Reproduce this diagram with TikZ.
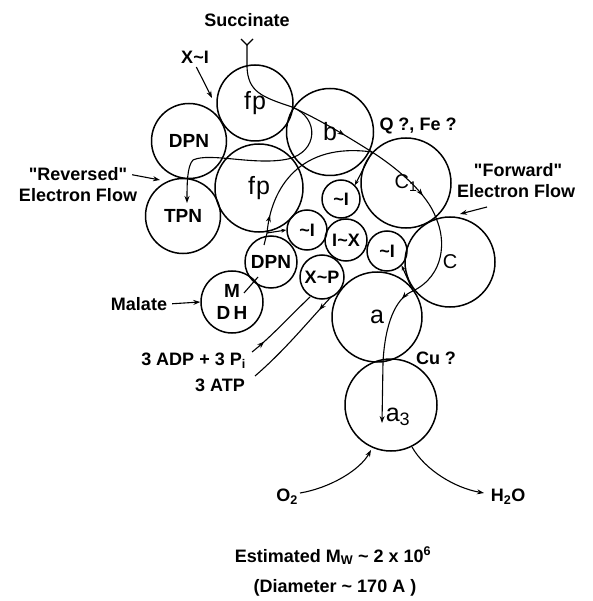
\documentclass[tikz,border=0pt]{standalone}
\usepackage{fontspec}
\setmainfont{Liberation Sans}
\usetikzlibrary{arrows.meta, decorations.markings}

\newcommand{\tld}{{\char"7E}}

\tikzset{
  ball/.style={circle, draw, line width=1.5pt, inner sep=0pt, minimum size=#1},
  lbl/.style={font=\bfseries\fontsize{18}{21}\selectfont, inner sep=1pt},
  inlbl/.style={font=\bfseries\fontsize{19}{22}\selectfont},
  smalllbl/.style={font=\bfseries\fontsize{18}{20}\selectfont},
  bigtxt/.style={font=\fontsize{25}{28}\selectfont},
  flow/.style={line width=1.1pt},
  lblarr/.style={-{Stealth[length=7pt,width=5pt]}, line width=1.1pt},
  smallarr/.style={-{Stealth[length=5pt,width=4pt]}, line width=1.1pt},
  midarrow/.style={postaction={decorate},
    decoration={markings, mark=at position #1 with {\arrow{Stealth[length=7pt,width=5pt]}}}},
}

\begin{document}
\begin{tikzpicture}[x=1pt, y=-1pt, >={Stealth[length=7pt,width=5pt]}]
\useasboundingbox (0,0) rectangle (592,601);

% ---- particles ----
\node[ball=76pt, bigtxt] (fpU) at (255,103) {f\kern1pt p};
\node[ball=75pt, inlbl] (dpnU) at (189,141) {DPN};
\node[ball=87pt, bigtxt] (cytb) at (330,132) {b};
\node[ball=88pt, bigtxt] (fpL) at (259,188) {f\kern1pt p};
\node[ball=75pt, inlbl] (tpn) at (183,216) {TPN};
\node[ball=90pt, font=\fontsize{20}{22}\selectfont] (cytc1) at (406,183) {C\textsubscript{1}};
\node[ball=38pt, smalllbl] (iT) at (341,199) {\tld I};
\node[ball=40pt, smalllbl] (iL) at (307,230) {\tld I};
\node[ball=42pt, smalllbl] (ix) at (346,240) {I\tld X};
\node[ball=40pt, smalllbl] (iR) at (387,251) {\tld I};
\node[ball=44pt, smalllbl] (xp) at (322,277) {X\tld P};
\node[ball=52pt, inlbl] (dpnM) at (271,262) {DPN};
\node[ball=62pt, inlbl, align=center] (mdh) at (232,302) {M\\D\,H};
\node[ball=90pt, font=\fontsize{20}{22}\selectfont] (cytc) at (450,262) {C};
\node[ball=90pt, bigtxt] (cyta) at (377,317) {a};
\node[ball=92pt] (cyta3) at (391,405) {};
\node[bigtxt, inner sep=0pt] (a3lbl) at (398,417) {a\textsubscript{\fontsize{18}{20}\selectfont 3}};

% ---- junctions ----
\coordinate (sucTop) at (247,45);
\coordinate (jFB) at (292,107);
\coordinate (jBC) at (372,152);
\coordinate (jCC) at (436,218);
\coordinate (jAC) at (413,291);
\coordinate (jAA) at (383,362);
\coordinate (a3end) at (382,423);
\coordinate (jDF) at (267,233);
\coordinate (tpnEnd) at (187,203);

% ---- labels ----
\node[lbl] (suc) at (247,20) {Succinate};
\node[lbl] (xi) at (195,57) {X\tld I};
\node[lbl] (rev1) at (78,174) {\textquotedbl Reversed\textquotedbl};
\node[lbl] (rev2) at (78,195) {Electron Flow};
\node[lbl] (fwd1) at (518,170) {\textquotedbl Forward\textquotedbl};
\node[lbl] (fwd2) at (516,191) {Electron Flow};
\node[lbl] (qfe) at (418,126) {Q ?, Fe ?};
\node[lbl] (cu) at (436,358) {Cu ?};
\node[lbl] (mal) at (139,304) {Malate};
\node[lbl, anchor=east] (adp) at (247,361) {3 ADP + 3 P\textsubscript{i}};
\node[lbl, anchor=east] (atp) at (246,385) {3 ATP};
\node[lbl] (oxy) at (287,497) {O\textsubscript{2}};
\node[lbl] (wat) at (508,497) {H\textsubscript{2}O};
\node[lbl] (mw) at (333,556) {Estimated M\textsubscript{W} \tld\ 2 x 10\textsuperscript{6}};
\node[lbl] (dia) at (335,588) {(Diameter \tld\ 170 A )};

\coordinate (xiEnd) at (212,98);
\coordinate (revEnd) at (160,180);
\coordinate (fwdFrom) at (487,207);
\coordinate (fwdTo) at (460,214);

% label arrows
\draw[lblarr, shorten <=3pt] (xi.south) -- (xiEnd);
\draw[lblarr, shorten <=4pt] (rev1.east) -- (revEnd);
\draw[lblarr] (fwdFrom) -- (fwdTo);
\draw[lblarr, shorten <=4pt] (mal.east) -- (mdh.west);

% ---- succinate -> a3 ----
\draw[flow] (241,39) -- (sucTop) -- (253,39);
\draw[flow] (sucTop) -- (247,67) .. controls (248,92) and (262,97) .. (jFB);
\draw[flow, midarrow=0.65] (jFB) .. controls (320,120) and (345,135) .. (jBC);
\draw[flow, midarrow=0.72] (jBC) .. controls (400,170) and (428,195) .. (jCC);
\draw[flow] (jCC) .. controls (446,240) and (445,275) .. (jAC);
\draw[flow, midarrow=0.17] (jAC) .. controls (395,298) and (385,325) .. (jAA);
\draw[flow, ->] (jAA) -- (a3end);

% reversed flow to TPN
\draw[flow, ->] (jFB) .. controls (320,118) and (318,152) .. (288,159)
  .. controls (255,166) and (210,152) .. (193,160)
  .. controls (187,166) and (187,185) .. (tpnEnd);

% malate branch
\draw[flow] (244,293) -- (258,277);
\draw[flow] (264,245) -- (jDF);
\draw[flow, midarrow=0.12] (jDF) .. controls (271,188) and (300,142) .. (jBC);

% ~I formation
\draw[smallarr] (jDF) -- (iL.west);
\draw[smallarr] (jBC) -- (iT.north east);
\draw[smallarr] (jAC) -- (iR.south east);

% phosphorylation
\draw[flow, midarrow=0.2] (252,352) .. controls (270,338) and (292,314) .. (310,297);
\draw[flow, midarrow=0.16] (331,297) .. controls (305,325) and (285,350) .. (255,376);

% oxygen
\draw[flow, ->] (300,493) .. controls (330,488) and (360,470) .. (371,450);
\draw[flow, ->] (412,447) .. controls (425,470) and (455,488) .. (484,493);

\end{tikzpicture}
\end{document}
